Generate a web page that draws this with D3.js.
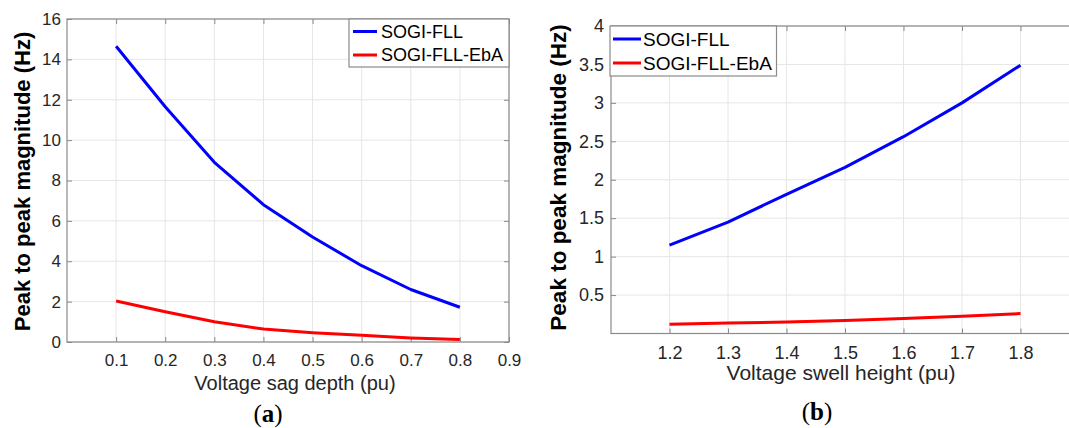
<!DOCTYPE html>
<html>
<head>
<meta charset="utf-8">
<script src="https://cdn.jsdelivr.net/npm/d3@7"></script>
<style>
  html, body { margin: 0; padding: 0; background: #fff; }
  svg { display: block; font-family: "Liberation Sans", Arial, sans-serif; }
</style>
</head>
<body>
<svg id="chart" width="1069" height="428"></svg>
<script>
// ---- data ----
const seriesNames = ["SOGI-FLL", "SOGI-FLL-EbA"];
const sagDepth = [0.1, 0.2, 0.3, 0.4, 0.5, 0.6, 0.7, 0.8];
const sagFLL   = [14.65, 11.65, 8.9, 6.8, 5.2, 3.78, 2.6, 1.72];
const sagEbA   = [2.03, 1.5, 1.0, 0.64, 0.46, 0.33, 0.2, 0.12];
const swellHeight = [1.2, 1.3, 1.4, 1.5, 1.6, 1.7, 1.8];
const swellFLL    = [1.15, 1.45, 1.81, 2.16, 2.56, 3.0, 3.49];
const swellEbA    = [0.12, 0.135, 0.15, 0.17, 0.195, 0.225, 0.26];
const sagXTicks   = [0.1, 0.2, 0.3, 0.4, 0.5, 0.6, 0.7, 0.8, 0.9];
const sagYTicks   = [0, 2, 4, 6, 8, 10, 12, 14, 16];
const swellXTicks = [1.2, 1.3, 1.4, 1.5, 1.6, 1.7, 1.8, 1.9];
const swellXLabels = [1.2, 1.3, 1.4, 1.5, 1.6, 1.7, 1.8];
const swellYTicks = [0.5, 1, 1.5, 2, 2.5, 3, 3.5, 4];
const colors = ["#0000ff", "#ff0000"];

const svg = d3.select("#chart");
const AXIS = "#8a8a8a", GRID = "#e6e6e6", TXT = "#262626";

function panel(cfg) {
  const g = svg.append("g");
  const x = d3.scaleLinear().domain(cfg.xDomain).range([cfg.left, cfg.right]);
  const y = d3.scaleLinear().domain(cfg.yDomain).range([cfg.bottom, cfg.top]);

  // grid
  g.append("g").selectAll("line").data(cfg.xTicks).join("line")
    .attr("x1", d => x(d)).attr("x2", d => x(d))
    .attr("y1", cfg.top).attr("y2", cfg.bottom)
    .attr("stroke", GRID).attr("stroke-width", 1);
  g.append("g").selectAll("line").data(cfg.yTicks).join("line")
    .attr("x1", cfg.left).attr("x2", cfg.right)
    .attr("y1", d => y(d)).attr("y2", d => y(d))
    .attr("stroke", GRID).attr("stroke-width", 1);

  // axes
  const fmt = d => String(d);
  const xa = g.append("g").attr("transform", `translate(0,${cfg.bottom})`)
    .call(d3.axisBottom(x).tickValues(cfg.xTicks)
      .tickFormat(d => cfg.xLabels.includes(d) ? fmt(d) : "")
      .tickSize(-5).tickSizeOuter(0).tickPadding(cfg.xPad));
  const ya = g.append("g").attr("transform", `translate(${cfg.left},0)`)
    .call(d3.axisLeft(y).tickValues(cfg.yTicks).tickFormat(fmt)
      .tickSize(-5).tickSizeOuter(0).tickPadding(cfg.yPad));
  g.append("g").attr("transform", `translate(0,${cfg.top})`)
    .call(d3.axisTop(x).tickValues(cfg.xTicks).tickFormat("").tickSize(-5).tickSizeOuter(0));
  g.append("g").attr("transform", `translate(${cfg.right},0)`)
    .call(d3.axisRight(y).tickValues(cfg.yTicks).tickFormat("").tickSize(-5).tickSizeOuter(0));
  g.selectAll(".domain").remove();
  g.selectAll(".tick line").attr("stroke", AXIS);
  [xa, ya].forEach(a => a.selectAll("text")
    .attr("fill", TXT).style("font-size", cfg.tickFont + "px")
    .style("font-family", "'Liberation Sans', Arial, sans-serif"));

  // box
  g.append("rect").attr("x", cfg.left).attr("y", cfg.top)
    .attr("width", cfg.right - cfg.left).attr("height", cfg.bottom - cfg.top)
    .attr("fill", "none").attr("stroke", AXIS).attr("stroke-width", 1.2);

  // lines
  const line = d3.line().x(d => x(d[0])).y(d => y(d[1]));
  cfg.series.forEach((s, i) => {
    g.append("path").datum(cfg.xs.map((v, k) => [v, s[k]]))
      .attr("d", line).attr("fill", "none")
      .attr("stroke", colors[i]).attr("stroke-width", 3)
      .attr("stroke-linejoin", "round");
  });

  // legend
  const L = cfg.legend;
  g.append("rect").attr("x", L.x).attr("y", L.y).attr("width", L.w).attr("height", L.h)
    .attr("fill", "#fff").attr("stroke", AXIS).attr("stroke-width", 1.2);
  seriesNames.forEach((n, i) => {
    const yy = L.rows[i];
    g.append("line").attr("x1", L.lx1).attr("x2", L.lx2).attr("y1", yy).attr("y2", yy)
      .attr("stroke", colors[i]).attr("stroke-width", 3);
    g.append("text").attr("x", L.tx).attr("y", yy).attr("dy", "0.36em")
      .attr("fill", "#000").style("font-size", L.font + "px").text(n);
  });

  // axis titles
  g.append("text").attr("x", cfg.xTitle[0]).attr("y", cfg.xTitle[1])
    .attr("text-anchor", "middle").attr("fill", TXT)
    .style("font-size", cfg.xTitle[2] + "px").text(cfg.xTitleText);
  g.append("text")
    .attr("transform", `translate(${cfg.yTitle[0]},${cfg.yTitle[1]}) rotate(-90)`)
    .attr("text-anchor", "middle").attr("fill", "#000")
    .style("font-size", cfg.yTitle[2] + "px").style("font-weight", "bold")
    .text("Peak to peak magnitude (Hz)");

  // panel label
  const t = g.append("text").attr("x", cfg.tag[0]).attr("y", cfg.tag[1])
    .attr("text-anchor", "middle").attr("fill", "#000")
    .style("font-family", "'Liberation Serif', 'DejaVu Serif', serif")
    .style("font-size", "25px");
  t.append("tspan").text("(");
  t.append("tspan").style("font-weight", "bold").text(cfg.tagLetter);
  t.append("tspan").text(")");
}

panel({
  xDomain: [0, 0.9], yDomain: [0, 16],
  left: 67, right: 509, top: 19, bottom: 342,
  xTicks: sagXTicks, xLabels: sagXTicks, yTicks: sagYTicks,
  xPad: 12, yPad: 6, tickFont: 17,
  xs: sagDepth, series: [sagFLL, sagEbA],
  legend: { x: 349, y: 19, w: 160, h: 48, rows: [31.5, 55], lx1: 353, lx2: 377, tx: 381, font: 18 },
  xTitle: [295, 390, 20], xTitleText: "Voltage sag depth (pu)",
  yTitle: [30, 181.5, 22],
  tag: [268, 422], tagLetter: "a"
});

panel({
  xDomain: [1.1, 1.9], yDomain: [0, 4],
  left: 611, right: 1079, top: 26, bottom: 333.5,
  xTicks: swellXTicks, xLabels: swellXLabels, yTicks: swellYTicks,
  xPad: 12.5, yPad: 7, tickFont: 18,
  xs: swellHeight, series: [swellFLL, swellEbA],
  legend: { x: 610, y: 26, w: 166.5, h: 50, rows: [39, 63], lx1: 613, lx2: 641, tx: 643, font: 19 },
  xTitle: [841, 380, 21], xTitleText: "Voltage swell height (pu)",
  yTitle: [566, 177.5, 22.5],
  tag: [817, 420], tagLetter: "b"
});
</script>
</body>
</html>
